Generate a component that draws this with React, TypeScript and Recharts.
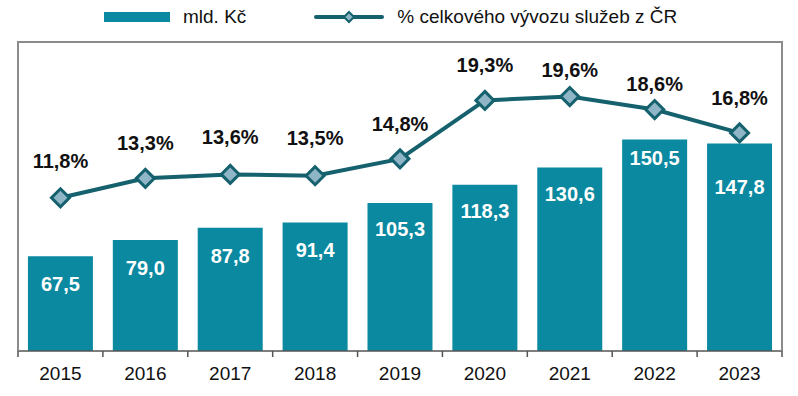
import React from 'react';
import { ComposedChart, Bar, Line, XAxis, YAxis, LabelList } from 'recharts';

const years = ['2015', '2016', '2017', '2018', '2019', '2020', '2021', '2022', '2023'];
const mldKc = [67.5, 79.0, 87.8, 91.4, 105.3, 118.3, 130.6, 150.5, 147.8];
const sharePct = [11.8, 13.3, 13.6, 13.5, 14.8, 19.3, 19.6, 18.6, 16.8];

// label placement tweaks (px), as in the original
const barLabelDrop = [28, 28, 28, 27, 26, 26, 26, 18, 44];
const lineLabelRise = [37, 35, 37, 38, 35, 35, 27, 26, 35];

const data = years.map((year, i) => ({ year, mld: mldKc[i], pct: sharePct[i] }));

const BAR_COLOR = '#0a89a0';
const LINE_COLOR = '#15616d';
const MARKER_FILL = '#8fb6c6';
const FONT = '"Liberation Sans", Arial, sans-serif';

const W = 798;
const H = 396;
const M = { top: 42, right: 16, left: 18, bottom: 5 };
const X_AXIS_H = 40;
const HALF_BAND = (W - M.left - M.right) / years.length / 2;

const fmt = (v: number) => v.toFixed(1).replace('.', ',');

const YearTick = (props: any) => {
  const { x, y, payload, index } = props;
  const last = index === years.length - 1;
  return (
    <g>
      <line x1={x - HALF_BAND} x2={x - HALF_BAND} y1={y} y2={y + 6} stroke="#555" strokeWidth={1.5} />
      {last && <line x1={x + HALF_BAND} x2={x + HALF_BAND} y1={y} y2={y + 6} stroke="#555" strokeWidth={1.5} />}
      <text x={x} y={y + 29} textAnchor="middle" fontSize={19} fill="#111" fontFamily={FONT}>
        {payload.value}
      </text>
    </g>
  );
};

const BarValue = (props: any) => {
  const { x, y, width, value, index } = props;
  return (
    <text x={x + width / 2} y={y + barLabelDrop[index] + 7} textAnchor="middle" fontSize={20} fontWeight="bold" fill="#fff" fontFamily={FONT}>
      {fmt(value)}
    </text>
  );
};

const PctValue = (props: any) => {
  const { x, y, value, index } = props;
  return (
    <text x={x} y={y - lineLabelRise[index] + 7} textAnchor="middle" fontSize={20} fontWeight="bold" fill="#111" fontFamily={FONT}>
      {fmt(value) + '%'}
    </text>
  );
};

const Diamond = (props: any) => {
  const { cx, cy, index } = props;
  const r = 9;
  return (
    <path
      key={`d-${index}`}
      d={`M${cx},${cy - r} L${cx + r},${cy} L${cx},${cy + r} L${cx - r},${cy} Z`}
      fill={MARKER_FILL}
      stroke={LINE_COLOR}
      strokeWidth={3}
    />
  );
};

const Legend = () => (
  <div style={{ position: 'absolute', left: 104, top: 5, height: 24, display: 'flex', alignItems: 'center', fontFamily: FONT, fontSize: 19, color: '#111' }}>
    <div style={{ width: 66, height: 10, background: BAR_COLOR }} />
    <span style={{ marginLeft: 13 }}>mld. Kč</span>
    <svg width={70} height={14} style={{ marginLeft: 68 }}>
      <line x1={2} x2={68} y1={7} y2={7} stroke={LINE_COLOR} strokeWidth={4} strokeLinecap="round" />
      <path d="M35,2 L40,7 L35,12 L30,7 Z" fill={MARKER_FILL} stroke={LINE_COLOR} strokeWidth={2} />
    </svg>
    <span style={{ marginLeft: 13 }}>% celkového vývozu služeb z ČR</span>
  </div>
);

// grey frame round the plot area (open at the bottom, where the axis line is)
const Frame = () => (
  <div
    style={{
      position: 'absolute',
      left: M.left - 1,
      top: M.top - 1,
      width: W - M.left - M.right + 2,
      height: H - M.top - M.bottom - X_AXIS_H + 1,
      boxSizing: 'border-box',
      border: '2px solid #8c8c8c',
      borderBottom: 'none',
      pointerEvents: 'none',
    }}
  />
);

export default function App() {
  return (
    <div style={{ position: 'absolute', left: 0, top: 0, width: W, height: H, background: '#fff' }}>
      <Legend />
      <ComposedChart width={W} height={H} data={data} margin={M} barCategoryGap="11.7%">
        <XAxis
          dataKey="year"
          height={X_AXIS_H}
          tickLine={false}
          tickSize={0}
          tickMargin={0}
          axisLine={{ stroke: '#555', strokeWidth: 1.5 }}
          tick={<YearTick />}
          interval={0}
        />
        <YAxis yAxisId="left" domain={[0, 220]} hide />
        <YAxis yAxisId="right" orientation="right" domain={[0, 23.8]} hide />
        <Bar yAxisId="left" dataKey="mld" fill={BAR_COLOR} isAnimationActive={false}>
          <LabelList dataKey="mld" content={<BarValue />} />
        </Bar>
        <Line
          yAxisId="right"
          dataKey="pct"
          stroke={LINE_COLOR}
          strokeWidth={4}
          dot={Diamond}
          activeDot={false}
          isAnimationActive={false}
        >
          <LabelList dataKey="pct" content={<PctValue />} />
        </Line>
      </ComposedChart>
      <Frame />
    </div>
  );
}
